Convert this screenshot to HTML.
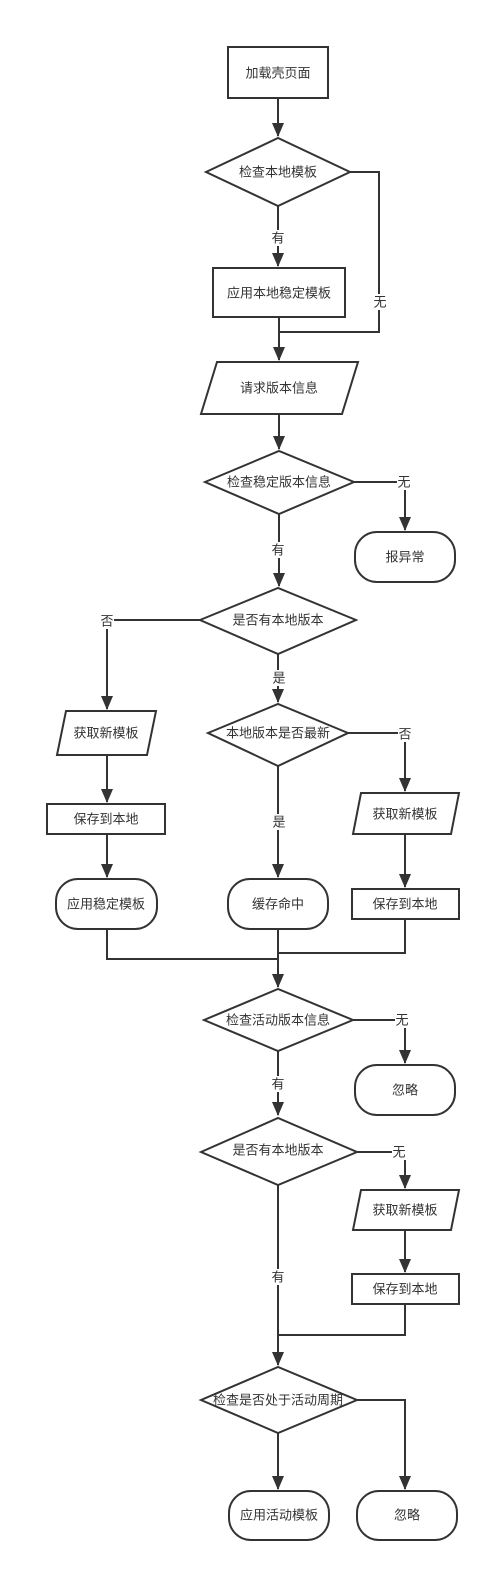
<!DOCTYPE html>
<html><head><meta charset="utf-8"><style>
html,body{margin:0;padding:0;background:#fff;}
svg{display:block;}
text{font-family:"Liberation Sans","Noto Sans CJK SC",sans-serif;font-size:13px;fill:#333;text-anchor:middle;dominant-baseline:central;}
.s{fill:#fff;stroke:#333;stroke-width:2;}
.l{fill:none;stroke:#333;stroke-width:2;}
.lb{fill:#fff;stroke:none;}
</style></head><body>
<svg width="492" height="1573" viewBox="0 0 492 1573" xmlns="http://www.w3.org/2000/svg">
<defs><marker id="a" markerWidth="14" markerHeight="12" refX="13" refY="6" orient="auto" markerUnits="userSpaceOnUse"><path d="M0,0 L14,6 L0,12 Z" fill="#333"/></marker></defs>
<path class="l" d="M278,98 V136" marker-end="url(#a)"/>
<path class="l" d="M278,206 V266" marker-end="url(#a)"/>
<path class="l" d="M350,172 H379 V332 H279"/>
<path class="l" d="M279,317 V360" marker-end="url(#a)"/>
<path class="l" d="M279,414 V449" marker-end="url(#a)"/>
<path class="l" d="M354,482 H405 V530" marker-end="url(#a)"/>
<path class="l" d="M279,514 V586" marker-end="url(#a)"/>
<path class="l" d="M200,620 H107 V709" marker-end="url(#a)"/>
<path class="l" d="M107,755 V802" marker-end="url(#a)"/>
<path class="l" d="M107,834 V877" marker-end="url(#a)"/>
<path class="l" d="M278,654 V702" marker-end="url(#a)"/>
<path class="l" d="M348,733 H405 V791" marker-end="url(#a)"/>
<path class="l" d="M405,834 V887" marker-end="url(#a)"/>
<path class="l" d="M278,766 V877" marker-end="url(#a)"/>
<path class="l" d="M107,929 V959 H278"/>
<path class="l" d="M405,919 V953 H278"/>
<path class="l" d="M278,929 V987" marker-end="url(#a)"/>
<path class="l" d="M353,1020 H405 V1063" marker-end="url(#a)"/>
<path class="l" d="M278,1051 V1115" marker-end="url(#a)"/>
<path class="l" d="M357,1152 H405 V1188" marker-end="url(#a)"/>
<path class="l" d="M405,1230 V1272" marker-end="url(#a)"/>
<path class="l" d="M405,1304 V1335 H278"/>
<path class="l" d="M278,1185 V1365" marker-end="url(#a)"/>
<path class="l" d="M278,1433 V1489" marker-end="url(#a)"/>
<path class="l" d="M357,1400 H405 V1489" marker-end="url(#a)"/>
<rect class="s" x="228" y="47" width="100" height="51"/><text x="278" y="73">加载壳页面</text>
<polygon class="s" points="206,172 278,138 350,172 278,206"/><text x="278" y="172">检查本地模板</text>
<rect class="s" x="213" y="268" width="132" height="49"/><text x="279" y="293">应用本地稳定模板</text>
<polygon class="s" points="217,362 358,362 342,414 201,414"/><text x="279" y="388">请求版本信息</text>
<polygon class="s" points="205,482 279,451 354,482 279,514"/><text x="279" y="482">检查稳定版本信息</text>
<rect class="s" x="355" y="532" width="100" height="50" rx="22"/><text x="405" y="557">报异常</text>
<polygon class="s" points="200,620 278,588 356,620 278,654"/><text x="278" y="620">是否有本地版本</text>
<polygon class="s" points="66,711 156,711 147,755 57,755"/><text x="106" y="733">获取新模板</text>
<rect class="s" x="47" y="804" width="118" height="30"/><text x="106" y="819">保存到本地</text>
<rect class="s" x="56" y="879" width="101" height="50" rx="22"/><text x="106" y="904">应用稳定模板</text>
<polygon class="s" points="208,733 278,704 348,733 278,766"/><text x="278" y="733">本地版本是否最新</text>
<polygon class="s" points="361,793 459,793 451,834 353,834"/><text x="405" y="814">获取新模板</text>
<rect class="s" x="352" y="889" width="107" height="30"/><text x="405" y="904">保存到本地</text>
<rect class="s" x="228" y="879" width="100" height="50" rx="22"/><text x="278" y="904">缓存命中</text>
<polygon class="s" points="204,1020 278,989 353,1020 278,1051"/><text x="278" y="1020">检查活动版本信息</text>
<rect class="s" x="355" y="1065" width="100" height="50" rx="22"/><text x="405" y="1090">忽略</text>
<polygon class="s" points="201,1152 278,1118 357,1152 278,1185"/><text x="278" y="1150">是否有本地版本</text>
<polygon class="s" points="361,1190 459,1190 451,1230 353,1230"/><text x="405" y="1210">获取新模板</text>
<rect class="s" x="352" y="1274" width="107" height="30"/><text x="405" y="1289">保存到本地</text>
<polygon class="s" points="201,1400 278,1367 357,1400 278,1433"/><text x="278" y="1400">检查是否处于活动周期</text>
<rect class="s" x="229" y="1491" width="100" height="49" rx="22"/><text x="279" y="1515">应用活动模板</text>
<rect class="s" x="357" y="1491" width="100" height="49" rx="22"/><text x="407" y="1515">忽略</text>
<rect class="lb" x="271" y="230" width="14" height="16"/><text x="278" y="238">有</text>
<rect class="lb" x="372" y="294" width="14" height="16"/><text x="380" y="302">无</text>
<rect class="lb" x="397" y="474" width="14" height="16"/><text x="404" y="482">无</text>
<rect class="lb" x="271" y="542" width="14" height="16"/><text x="278" y="550">有</text>
<rect class="lb" x="100" y="613" width="14" height="16"/><text x="107" y="621">否</text>
<rect class="lb" x="271" y="670" width="14" height="16"/><text x="279" y="678">是</text>
<rect class="lb" x="398" y="726" width="14" height="16"/><text x="405" y="734">否</text>
<rect class="lb" x="271" y="814" width="14" height="16"/><text x="279" y="822">是</text>
<rect class="lb" x="395" y="1012" width="14" height="16"/><text x="402" y="1020">无</text>
<rect class="lb" x="271" y="1076" width="14" height="16"/><text x="278" y="1084">有</text>
<rect class="lb" x="392" y="1144" width="14" height="16"/><text x="399" y="1152">无</text>
<rect class="lb" x="271" y="1269" width="14" height="16"/><text x="278" y="1277">有</text>
</svg>
</body></html>
